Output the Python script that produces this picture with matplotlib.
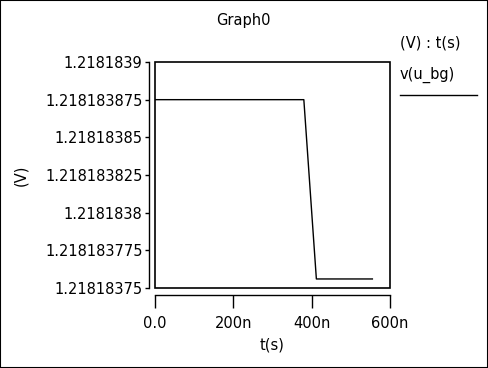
import matplotlib
matplotlib.use('Agg')
from matplotlib import pyplot as plt
from matplotlib.patches import Rectangle

# Data
t_s = [0.0, 380e-9, 412e-9, 555e-9]
v_u_bg = [1.218183875, 1.218183875, 1.218183756, 1.218183756]
x_ticks = [0.0, 200e-9, 400e-9, 600e-9]
x_labels = ['0.0', '200n', '400n', '600n']
y_ticks = [1.21818375, 1.218183775, 1.2181838, 1.218183825, 1.21818385, 1.218183875, 1.2181839]
y_labels = ['1.21818375', '1.218183775', '1.2181838', '1.218183825', '1.21818385', '1.218183875', '1.2181839']

plt.rcParams['font.family'] = 'DejaVu Sans'
W, H = 488, 368
fig = plt.figure(figsize=(W / 100, H / 100), dpi=100)

# figure border
fig.patches.append(Rectangle((0, 0), 1, 1, transform=fig.transFigure, fill=False,
                             edgecolor='black', linewidth=1.5))

# main plot box
left, right, top, bottom = 155, 390, 62, 288
ax = fig.add_axes([left / W, 1 - bottom / H, (right - left) / W, (bottom - top) / H])
ax.plot(t_s, v_u_bg, color='black', linewidth=1)
ax.set_xlim(0, 600e-9)
ax.set_ylim(1.21818375, 1.2181839)
ax.add_patch(Rectangle((0, 0), 1, 1, transform=ax.transAxes, fill=False,
                       edgecolor='black', linewidth=1.2, clip_on=False))
for s in ['top', 'right']:
    ax.spines[s].set_visible(False)
ax.spines['left'].set_position(('outward', 4))
ax.spines['bottom'].set_position(('outward', 5))
ax.spines['left'].set_linewidth(1)
ax.spines['bottom'].set_linewidth(1)

fs = 10.5
ax.set_xticks(x_ticks)
ax.set_xticklabels(x_labels, fontsize=fs)
ax.set_yticks(y_ticks)
ax.set_yticklabels(y_labels, fontsize=fs)
ax.tick_params(axis='x', direction='out', length=9, width=1, pad=6)
ax.tick_params(axis='y', direction='out', length=3, width=1, pad=2)
ax.set_xlabel('t(s)', fontsize=fs, labelpad=5)
ax.set_ylabel('(V)', fontsize=fs, labelpad=12)

# texts
fig.text(243 / W, 1 - 20 / H, 'Graph0', ha='center', va='center', fontsize=fs)
fig.text(400 / W, 1 - 43 / H, '(V) : t(s)', ha='left', va='center', fontsize=fs)
fig.text(400 / W, 1 - 75 / H, 'v(u_bg)', ha='left', va='center', fontsize=fs)
fig.lines.append(plt.Line2D([400 / W, 477 / W], [1 - 95 / H, 1 - 95 / H],
                            transform=fig.transFigure, color='black', linewidth=1))

fig.savefig('out.png', dpi=100)
